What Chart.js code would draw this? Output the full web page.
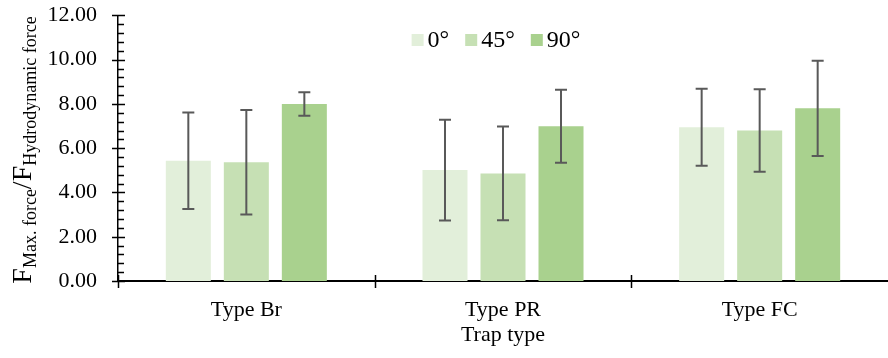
<!DOCTYPE html>
<html>
<head>
<meta charset="utf-8">
<script src="https://cdn.jsdelivr.net/npm/chart.js@4/dist/chart.umd.min.js"></script>
<style>
  html, body { margin: 0; padding: 0; background: #fff; }
  #wrap { width: 888px; height: 358px; }
</style>
</head>
<body>
<div id="wrap"><canvas id="mycanvas"></canvas></div>
<script>
// data
var categories = ['Type Br', 'Type PR', 'Type FC'];
var angles = ['0°', '45°', '90°'];
var mean0 = [5.43, 5.01, 6.95];
var mean45 = [5.37, 4.86, 6.80];
var mean90 = [8.00, 6.99, 7.80];
var err0 = [2.18, 2.28, 1.74];
var err45 = [2.36, 2.12, 1.86];
var err90 = [0.53, 1.65, 2.15];
var colors = ['#e2efda', '#c6e0b4', '#a9d18e'];

var FONT = 'Liberation Serif';

// error bars from dataset.errors
var errorBars = {
	id: 'errorBars',
	afterDatasetsDraw: function(chart) {
		var ctx = chart.ctx;
		var y = chart.scales.y;
		ctx.save();
		ctx.strokeStyle = '#595959';
		ctx.lineWidth = 2;
		chart.data.datasets.forEach(function(ds, i) {
			var meta = chart.getDatasetMeta(i);
			meta.data.forEach(function(bar, j) {
				var v = ds.data[j], e = ds.errors[j];
				var top = y.getPixelForValue(v + e);
				var bot = y.getPixelForValue(v - e);
				ctx.beginPath();
				ctx.moveTo(bar.x, top); ctx.lineTo(bar.x, bot);
				ctx.moveTo(bar.x - 6, top); ctx.lineTo(bar.x + 6, top);
				ctx.moveTo(bar.x - 6, bot); ctx.lineTo(bar.x + 6, bot);
				ctx.stroke();
			});
		});
		ctx.restore();
	}
};

// tick marks (major crossing, minor inside), legend inside the plot, y title with subscripts
var decor = {
	id: 'decor',
	afterDraw: function(chart) {
		var ctx = chart.ctx;
		var ys = chart.scales.y, xs = chart.scales.x;
		var area = chart.chartArea;
		ctx.save();
		ctx.strokeStyle = '#000';
		ctx.lineWidth = 1.5;
		ctx.beginPath();
		for (var k = 0; k <= 30; k++) {
			var v = k * 0.4;
			var py = Math.round(ys.getPixelForValue(v)) + 0.5;
			if (k % 5 === 0) {
				ctx.moveTo(area.left - 6, py); ctx.lineTo(area.left + 7, py);
			} else {
				ctx.moveTo(area.left, py); ctx.lineTo(area.left + 6, py);
			}
		}
		var half = (xs.getPixelForValue(1) - xs.getPixelForValue(0)) / 2;
		for (var c = 0; c < categories.length; c++) {
			var px = Math.round(xs.getPixelForValue(c) - half) + 0.5;
			ctx.moveTo(px, area.bottom - 6); ctx.lineTo(px, area.bottom + 7);
		}
		ctx.stroke();

		// legend
		ctx.font = '24px "' + FONT + '"';
		ctx.textBaseline = 'middle';
		ctx.textAlign = 'left';
		var box = 12, gapTxt = 4, gapItem = 16;
		var total = 0;
		var widths = chart.data.datasets.map(function(ds) { return ctx.measureText(ds.label).width; });
		widths.forEach(function(w, i) { total += box + gapTxt + w + (i ? gapItem : 0); });
		var lx = (area.left + area.right) / 2 - total / 2 - 7;
		var ly = 40;
		chart.data.datasets.forEach(function(ds, i) {
			ctx.fillStyle = ds.backgroundColor;
			ctx.fillRect(lx, ly - box / 2, box, box);
			ctx.fillStyle = '#000';
			ctx.fillText(ds.label, lx + box + gapTxt, ly + 1);
			lx += box + gapTxt + widths[i] + gapItem;
		});

		// y title F_{Max. force}/F_{Hydrodynamic force}
		var parts = [
			['F', 28, 0], ['Max. force', 18, 5], ['/F', 28, 0], ['Hydrodynamic force', 18, 5]
		];
		var tw = 0;
		parts.forEach(function(p) { ctx.font = p[1] + 'px "' + FONT + '"'; p.push(ctx.measureText(p[0]).width); tw += p[3]; });
		ctx.translate(31, 150);
		ctx.rotate(-Math.PI / 2);
		ctx.textBaseline = 'alphabetic';
		var tx = -tw / 2;
		parts.forEach(function(p) {
			ctx.font = p[1] + 'px "' + FONT + '"';
			ctx.fillText(p[0], tx, p[2]);
			tx += p[3];
		});
		ctx.restore();
	}
};

var chartdata = {
	labels: categories,
	datasets: [
		{ label: angles[0], data: mean0, errors: err0, backgroundColor: colors[0] },
		{ label: angles[1], data: mean45, errors: err45, backgroundColor: colors[1] },
		{ label: angles[2], data: mean90, errors: err90, backgroundColor: colors[2] }
	]
};

var ctx = document.getElementById('mycanvas');
var barGraph = new Chart(ctx, {
	type: 'bar',
	data: chartdata,
	plugins: [errorBars, decor],
	options: {
		responsive: true,
		maintainAspectRatio: false,
		animation: false,
		categoryPercentage: 0.678,
		barPercentage: 0.776,
		layout: { autoPadding: false, padding: { top: 15, right: 0, left: 0, bottom: 0 } },
		plugins: {
			legend: { display: false },
			tooltip: { enabled: false }
		},
		scales: {
			x: {
				grid: { display: false },
				border: { display: true, color: '#000', width: 2 },
				ticks: { color: '#000', font: { family: FONT, size: 22 }, padding: 8 },
				title: { display: true, text: 'Trap type', color: '#000', font: { family: FONT, size: 22 }, padding: { top: 0, bottom: 10 } },
				afterFit: function(s) { s.height = 77; }
			},
			y: {
				min: 0, max: 12,
				grid: { display: false },
				border: { display: true, color: '#000', width: 1.5 },
				ticks: { stepSize: 2, color: '#000', font: { family: FONT, size: 22, lineHeight: 0.22 }, padding: 13,
					callback: function(v) { return v.toFixed(2); } },
				afterFit: function(s) { s.width = 118; }
			}
		}
	}
});
</script>
</body>
</html>
